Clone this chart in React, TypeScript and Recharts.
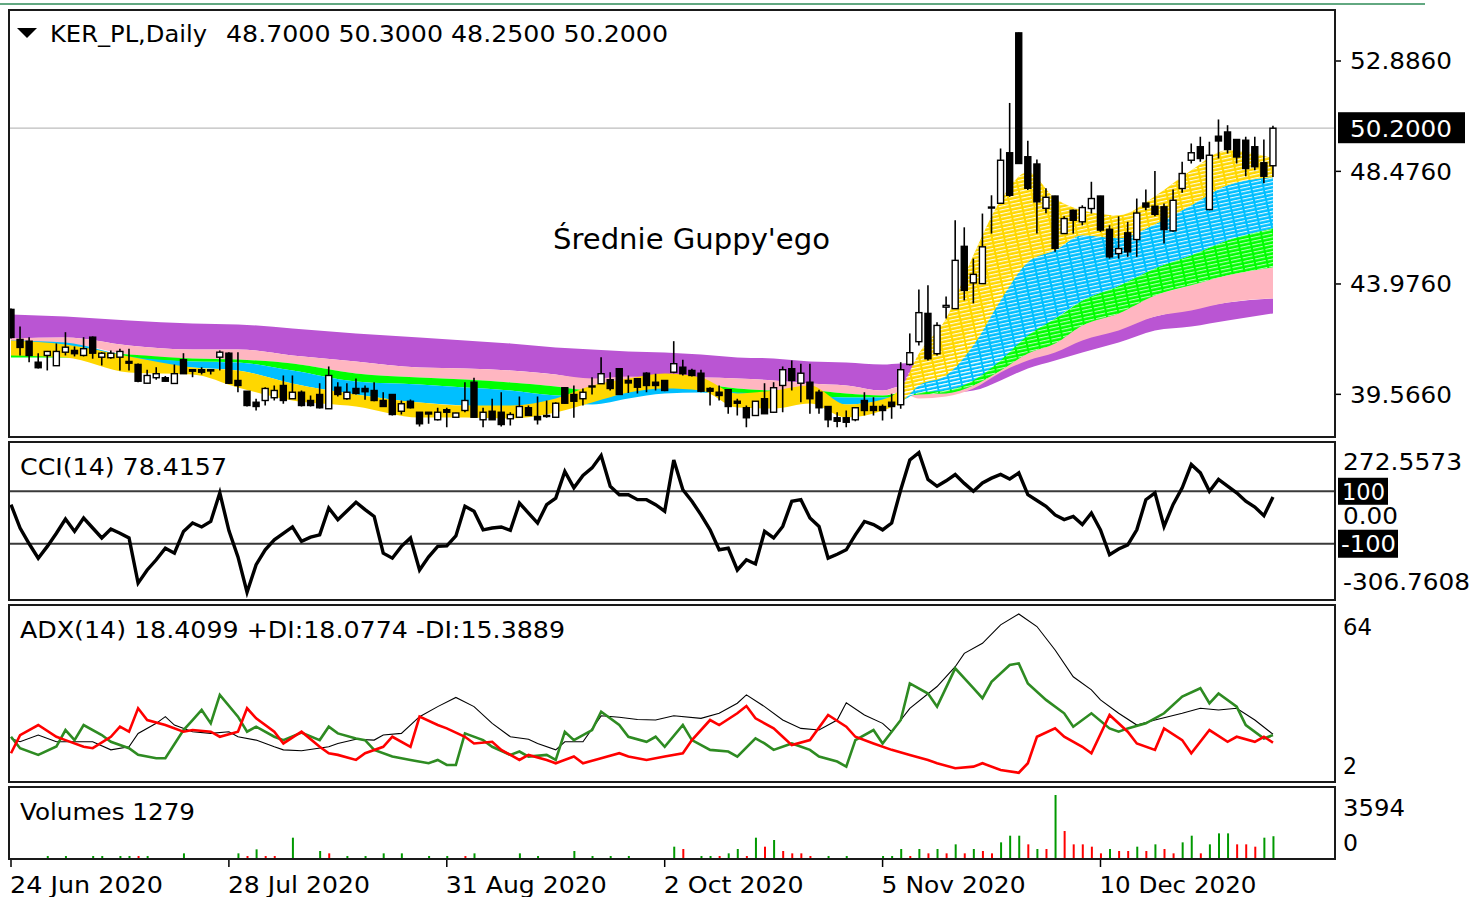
import React from 'react';
import { ComposedChart, Bar, Line, Area, XAxis, YAxis, ReferenceLine, Cell } from 'recharts';

// ---------------- DATA ----------------
const openP = [
  42.96, 41.76, 41.69, 40.85, 41.12, 40.71, 41.25, 41.32, 41.12, 41.85,
  41.05, 41.03, 41.05, 40.88, 40.76, 40.01, 40.23, 40.23, 40.0, 40.95,
  40.55, 40.55, 40.55, 41.05, 41.21, 40.12, 39.69, 39.25, 39.32, 39.43,
  39.92, 39.39, 39.65, 39.32, 39.56, 38.99, 39.85, 39.39, 39.8, 39.8,
  39.72, 39.32, 39.56, 38.89, 39.29, 38.85, 38.85, 38.55, 38.95, 38.65,
  38.92, 40.05, 38.55, 38.89, 38.85, 38.59, 38.65, 39.03, 38.68, 38.72,
  38.65, 39.83, 39.56, 39.39, 39.87, 39.99, 40.15, 40.59, 40.12, 40.19,
  40.41, 40.05, 40.12, 40.45, 40.65, 40.52, 40.41, 39.8, 39.65, 39.75,
  39.29, 39.03, 38.72, 39.39, 38.85, 39.92, 40.59, 40.01, 40.05, 39.65,
  39.08, 38.63, 38.63, 38.55, 39.32, 39.08, 39.08, 39.25, 39.15, 40.76,
  41.67, 42.8, 41.19, 43.05, 42.99, 45.48, 44.02, 43.99, 47.05, 47.2,
  49.22, 54.01, 49.06, 48.77, 47.0, 47.49, 45.99, 46.92, 46.46, 46.99,
  47.49, 46.16, 45.19, 46.02, 45.75, 47.21, 47.08, 47.06, 46.1, 47.79,
  48.92, 49.46, 46.95, 49.88, 50.05, 49.75, 49.72, 49.46, 48.82, 48.7,
];
const highP = [
  43.0, 42.28, 41.85, 41.21, 41.3, 41.6, 42.05, 41.48, 41.85, 41.88,
  41.25, 41.32, 41.39, 41.39, 40.8, 40.55, 40.65, 40.3, 40.76, 41.21,
  40.57, 40.65, 40.57, 41.32, 41.25, 41.25, 39.7, 39.39, 39.85, 39.92,
  40.32, 40.32, 39.72, 39.52, 40.01, 40.68, 40.05, 40.01, 40.2, 39.92,
  40.05, 39.65, 39.57, 39.32, 39.36, 38.86, 38.86, 39.03, 39.03, 38.83,
  40.05, 40.23, 39.03, 39.39, 39.65, 38.85, 39.48, 39.12, 39.48, 39.32,
  39.25, 39.85, 39.92, 39.8, 40.25, 41.05, 40.45, 40.6, 40.32, 40.2,
  40.45, 40.39, 40.13, 41.69, 40.95, 40.59, 40.55, 39.85, 39.92, 39.76,
  39.39, 39.12, 39.3, 40.01, 40.05, 40.68, 40.92, 40.79, 40.79, 39.75,
  39.09, 38.85, 38.92, 39.04, 39.65, 39.45, 39.16, 39.59, 40.85, 42.0,
  43.76, 43.92, 42.45, 43.48, 46.52, 46.24, 44.99, 46.79, 47.52, 49.39,
  51.21, 54.02, 49.7, 48.95, 47.8, 47.5, 46.68, 46.95, 47.12, 48.06,
  47.5, 46.32, 46.68, 46.46, 47.39, 47.75, 48.49, 47.19, 47.75, 48.86,
  49.59, 49.86, 49.66, 50.55, 50.32, 49.76, 49.86, 49.86, 49.75, 50.3,
];
const lowP = [
  41.8, 41.12, 40.85, 40.6, 40.52, 40.7, 41.12, 41.08, 41.08, 40.99,
  40.72, 40.99, 40.52, 40.52, 40.05, 40.0, 40.15, 40.08, 39.98, 40.38,
  40.25, 40.36, 40.36, 40.52, 39.98, 39.65, 39.08, 38.92, 39.12, 39.32,
  39.19, 39.39, 39.08, 39.08, 39.0, 38.98, 39.48, 39.35, 39.56, 39.35,
  39.29, 39.08, 38.72, 38.76, 39.0, 38.28, 38.39, 38.52, 38.25, 38.64,
  38.85, 38.63, 38.25, 38.55, 38.28, 38.32, 38.63, 38.72, 38.36, 38.63,
  38.64, 39.19, 38.63, 39.12, 39.56, 39.99, 39.72, 39.55, 39.62, 39.6,
  39.65, 39.72, 39.69, 40.41, 40.32, 40.28, 39.65, 39.12, 39.32, 38.79,
  38.72, 38.25, 38.7, 38.78, 38.82, 38.85, 39.72, 39.25, 38.79, 38.79,
  38.25, 38.25, 38.25, 38.49, 38.72, 38.72, 38.52, 38.59, 38.99, 40.72,
  41.52, 40.92, 41.12, 42.6, 42.98, 43.32, 43.2, 43.98, 45.99, 47.19,
  47.46, 48.78, 47.73, 45.99, 46.8, 45.26, 45.98, 45.99, 46.32, 46.79,
  46.06, 44.99, 44.99, 45.06, 45.06, 46.92, 46.68, 45.59, 46.06, 47.62,
  48.79, 48.86, 46.92, 48.99, 49.19, 48.79, 48.28, 48.52, 48.0, 48.25,
];
const closeP = [
  41.84, 41.44, 41.12, 40.63, 41.28, 41.28, 41.45, 41.19, 41.39, 41.21,
  41.21, 41.21, 41.28, 40.81, 40.09, 40.32, 40.39, 40.09, 40.39, 40.39,
  40.49, 40.45, 40.5, 41.25, 40.01, 39.92, 39.12, 39.08, 39.8, 39.72,
  39.32, 39.65, 39.12, 39.12, 39.03, 40.32, 39.56, 39.65, 39.6, 39.67,
  39.32, 39.08, 38.76, 39.19, 39.03, 38.39, 38.78, 38.85, 38.85, 38.82,
  39.32, 38.65, 38.85, 38.55, 38.36, 38.76, 39.08, 38.72, 38.55, 38.68,
  39.21, 39.21, 39.29, 39.65, 39.9, 40.39, 39.8, 39.56, 40.02, 39.85,
  39.92, 39.92, 39.72, 40.79, 40.39, 40.32, 39.69, 39.69, 39.52, 39.08,
  39.21, 38.63, 39.29, 38.79, 39.83, 40.55, 40.12, 40.41, 39.39, 39.03,
  38.55, 38.49, 38.45, 39.03, 38.92, 38.92, 38.92, 39.08, 40.55, 41.23,
  42.83, 40.99, 42.32, 43.12, 44.92, 43.72, 44.36, 45.46, 47.02, 48.92,
  47.52, 48.79, 47.8, 47.26, 47.44, 45.4, 46.59, 46.52, 47.03, 47.39,
  46.13, 45.06, 45.39, 45.26, 46.81, 47.05, 46.76, 46.15, 47.32, 48.39,
  49.22, 48.99, 49.12, 49.69, 49.35, 49.05, 48.59, 48.66, 48.28, 50.2,
];

// Guppy ribbons: envelope of each colour group, read at sample bars
const bandIdx = [0, 6, 13, 20, 25, 31, 38, 45, 50, 55, 60, 64, 68, 72, 76, 80, 84, 88, 92, 96, 98, 100, 103, 106, 109, 112, 115, 118, 122, 126, 130, 134, 139];
const yellowHi = [41.72, 41.56, 41.08, 40.64, 40.52, 40.0, 39.56, 39.24, 39.12, 39.12, 39.4, 39.92, 40.2, 40.4, 40.24, 39.6, 39.72, 39.92, 39.16, 39.36, 39.8, 41.2, 42.6, 45.12, 47.32, 48.44, 47.4, 46.92, 46.72, 47.48, 48.52, 49.32, 49.0];
const yellowLo = [41.12, 41.04, 40.44, 40.36, 39.84, 39.32, 39.08, 38.64, 38.64, 38.6, 38.84, 39.24, 39.64, 39.8, 39.72, 39.04, 39.0, 39.2, 38.64, 38.92, 39.24, 39.92, 40.32, 41.52, 43.32, 44.84, 45.32, 45.92, 45.8, 46.36, 47.12, 47.92, 48.24];
const blueHi = [41.72, 41.64, 41.08, 40.88, 40.84, 40.52, 40.08, 39.96, 39.84, 39.72, 39.52, 39.48, 39.8, 39.92, 39.84, 39.64, 39.6, 39.52, 39.44, 39.44, 39.56, 40.12, 41.0, 42.32, 43.92, 44.92, 45.32, 45.92, 45.8, 46.36, 47.12, 47.92, 48.24];
const blueLo = [41.24, 41.32, 40.84, 40.64, 40.52, 40.0, 39.56, 39.24, 39.12, 39.04, 39.2, 39.16, 39.4, 39.6, 39.64, 39.48, 39.4, 39.36, 39.16, 39.28, 39.32, 39.64, 39.72, 40.12, 40.92, 41.92, 42.6, 43.32, 43.9, 44.6, 45.12, 45.72, 46.2];
const greenHi = [41.32, 41.32, 41.16, 41.0, 40.96, 40.8, 40.4, 40.24, 40.16, 40.04, 39.88, 39.72, 39.96, 39.96, 39.96, 39.8, 39.72, 39.72, 39.6, 39.52, 39.64, 39.8, 40.2, 40.92, 41.32, 42.2, 42.6, 43.32, 43.9, 44.6, 45.12, 45.72, 46.2];
const greenLo = [41.04, 41.04, 40.96, 40.88, 40.84, 40.52, 40.08, 39.96, 39.84, 39.72, 39.52, 39.48, 39.72, 39.72, 39.8, 39.6, 39.6, 39.52, 39.44, 39.44, 39.48, 39.56, 39.6, 39.92, 40.52, 41.2, 41.6, 42.32, 42.8, 43.52, 43.92, 44.32, 44.64];
const pinkHi = [41.8, 41.84, 41.52, 41.36, 41.36, 41.12, 40.88, 40.64, 40.6, 40.52, 40.36, 40.2, 40.28, 40.2, 40.24, 40.2, 40.12, 40.0, 39.92, 39.72, 39.88, 39.64, 39.88, 40.44, 40.92, 41.4, 41.7, 42.32, 42.9, 43.52, 43.92, 44.32, 44.64];
const pinkLo = [41.64, 41.6, 41.16, 41.0, 40.96, 40.8, 40.4, 40.24, 40.16, 40.04, 39.88, 39.72, 39.88, 39.88, 39.96, 39.8, 39.72, 39.72, 39.6, 39.52, 39.64, 39.4, 39.48, 39.8, 40.44, 40.92, 41.24, 41.72, 42.12, 42.68, 42.92, 43.24, 43.4];
const purpleHi = [42.76, 42.68, 42.52, 42.4, 42.36, 42.2, 42.0, 41.84, 41.72, 41.6, 41.44, 41.36, 41.28, 41.24, 41.16, 41.04, 41.0, 40.88, 40.84, 40.76, 40.8, 40.84, 40.76, 40.72, 40.84, 41.24, 41.52, 41.92, 42.32, 42.68, 43.0, 43.24, 43.4];
const purpleLo = [41.8, 41.84, 41.52, 41.36, 41.36, 41.12, 40.88, 40.64, 40.6, 40.52, 40.36, 40.12, 40.2, 40.12, 40.24, 40.2, 40.12, 40.0, 39.92, 39.72, 39.88, 39.64, 39.64, 39.72, 40.12, 40.6, 40.92, 41.24, 41.64, 42.12, 42.28, 42.52, 42.8];

const cci = [
  49, -40, -100, -155, -110, -60, -6, -53, -2, -40,
  -78, -44, -60, -78, -250, -200, -161, -117, -136, -53,
  -21, -36, -15, 94, -50, -150, -285, -180, -123, -85,
  -60, -36, -91, -75, -66, 36, -8, 25, 58, 30,
  4, -136, -155, -110, -78, -200, -150, -110, -108, -70,
  43, 24, -47, -40, -36, -49, 55, 17, -21, 49,
  74, 176, 113, 160, 189, 236, 119, 87, 87, 68,
  68, 49, 24, 219, 106, 62, 10, -47, -123, -117,
  -200, -161, -177, -53, -78, -34, 62, 68, -2, -34,
  -155, -140, -123, -66, -15, -27, -47, -21, 106, 219,
  247, 145, 119, 140, 164, 130, 100, 132, 150, 164,
  147, 170, 87, 65, 43, 10, -8, 4, -27, 17,
  -47, -142, -120, -104, -47, 68, 94, -34, 50, 113,
  202, 170, 100, 145, 120, 94, 62, 40, 7, 78.4157,
];

const adxPts: [number, number][] = [
  [0, 16.9], [1, 15.7], [3, 18.1], [5, 15.7], [7, 15.7], [9, 15.7], [11, 12.8], [13, 13.9], [14, 18.7], [16, 22.3],
  [17, 24.7], [18, 21.7], [20, 19.3], [22, 18.7], [24, 19.3], [25, 17.5], [27, 16.3], [29, 13.9], [30, 12.8], [32, 12.5],
  [35, 13.9], [36, 15.1], [38, 16.6], [40, 16.3], [41, 18.1], [43, 18.7], [45, 24.7], [47, 28.3], [49, 31.6], [51, 28.3],
  [53, 22.3], [55, 17.5], [57, 16.6], [58, 15.1], [60, 12.8], [61, 15.7], [63, 15.7], [65, 25], [67, 24.5], [69, 23.7],
  [71, 23.5], [73, 25], [76, 24.1], [78, 25.9], [80, 29.5], [81, 32.5], [83, 28.3], [85, 23.5], [87, 20.5], [89, 19.9],
  [91, 23.5], [92, 29.7], [94, 25.3], [96, 22.3], [97, 19.3], [99, 27.7], [102, 35.5], [104, 42.6], [105, 47.4], [107, 51],
  [109, 57.6], [111, 61.5], [113, 57], [115, 48.6], [117, 39], [119, 34.3], [120, 30.7], [122, 25.9], [124, 21.7], [126, 23.5],
  [129, 25.9], [131, 27.7], [133, 27.1], [135, 27.7], [137, 23.5], [139, 18.4099],
];
const plusDiPts: [number, number][] = [
  [0, 17.5], [1, 13.4], [3, 11], [5, 14], [6, 19.9], [7, 16.3], [8, 21.7], [10, 18.1], [11, 15.7], [13, 13.4],
  [14, 11], [16, 9.8], [17, 9.8], [19, 19.9], [20, 23.5], [21, 27.1], [22, 22.3], [23, 32.5], [25, 24.7], [26, 19.3],
  [27, 21.1], [29, 17.5], [30, 16.3], [32, 19], [34, 16.3], [35, 21.1], [36, 18.7], [38, 16.9], [39, 16.3], [40, 12.8],
  [42, 10.4], [43, 9.8], [44, 9.2], [46, 8], [47, 9.2], [48, 7.4], [49, 7.4], [50, 18.7], [52, 16.3], [53, 13.9],
  [55, 11], [56, 12.2], [57, 10.4], [59, 11], [60, 9.2], [61, 19.3], [62, 16.3], [64, 19.9], [65, 26.5], [67, 21.7],
  [68, 17.5], [70, 15.7], [71, 17.5], [72, 13.9], [74, 21.7], [75, 16.3], [77, 12.8], [79, 12.2], [80, 10.4], [82, 16.9],
  [83, 15.1], [84, 12.8], [86, 15.1], [88, 12.8], [89, 10.4], [91, 8.6], [92, 6.8], [93, 16.3], [95, 19.9], [96, 15.1],
  [98, 23.5], [99, 36.6], [101, 33], [102, 28.3], [104, 42], [106, 34.9], [107, 31.3], [108, 37.2], [110, 43.2], [111, 43.8],
  [112, 36.6], [114, 30.7], [116, 25.9], [117, 21.1], [119, 25.9], [121, 20.5], [122, 19.3], [123, 20.5], [125, 22.3], [127, 25.9],
  [129, 31.9], [131, 34.9], [132, 29.5], [133, 33], [135, 28.3], [136, 21.7], [138, 16.9], [139, 18.0774],
];
const minusDiPts: [number, number][] = [
  [0, 11.6], [1, 18.1], [3, 21.7], [5, 17.5], [6, 16.3], [8, 13.9], [9, 13.4], [11, 17.5], [12, 21.1], [13, 19.3],
  [14, 27.7], [15, 23.5], [17, 21.7], [19, 19.3], [20, 19.9], [22, 19.3], [23, 17.5], [25, 19.3], [26, 27.7], [27, 24.1],
  [29, 19.3], [30, 15.1], [32, 19.3], [34, 13.9], [35, 11.6], [36, 11], [38, 9.2], [39, 11.6], [41, 13.9], [42, 17.5],
  [44, 13.9], [45, 24.7], [47, 21.7], [48, 20.5], [50, 17.5], [51, 15.1], [53, 15.7], [54, 12.8], [56, 9.2], [57, 11],
  [59, 9.2], [60, 8], [62, 10.4], [63, 8], [65, 9.8], [67, 11.6], [68, 10.4], [70, 9.2], [72, 10.4], [74, 11.6],
  [75, 16.3], [77, 23.5], [78, 21.7], [80, 25.9], [81, 28.5], [82, 24.1], [84, 20.5], [85, 17.5], [86, 14.5], [88, 16.3],
  [90, 25.3], [92, 21.1], [93, 17.5], [95, 15.1], [97, 12.8], [99, 11], [101, 9.2], [102, 8], [104, 6.2], [106, 6.8],
  [107, 8], [109, 5.6], [111, 4.6], [112, 8], [113, 17.5], [115, 20.5], [116, 17.5], [118, 13.9], [119, 11.6], [121, 25.3],
  [123, 19.3], [124, 15.1], [126, 12.8], [127, 20.5], [129, 16.3], [130, 11.6], [132, 19.9], [134, 15.7], [135, 17.5], [137, 15.7],
  [138, 17.5], [139, 15.3889],
];

// volume: [bar index, volume, 1 = green / 0 = red]
const volumePts: [number, number, number][] = [
  [4, 168, 1], [6, 168, 1], [9, 168, 1], [10, 168, 1], [12, 168, 1], [13, 168, 1], [14, 168, 0], [15, 168, 1], [19, 318, 1], [25, 318, 1],
  [26, 168, 0], [27, 542, 1], [28, 168, 0], [29, 168, 0], [31, 1197, 1], [34, 449, 1], [35, 318, 0], [37, 168, 1], [39, 168, 1], [41, 318, 1],
  [43, 318, 1], [46, 168, 1], [48, 168, 1], [50, 168, 0], [51, 318, 1], [56, 318, 1], [58, 168, 1], [62, 449, 1], [64, 168, 1], [66, 168, 1],
  [68, 168, 1], [73, 692, 1], [74, 561, 0], [76, 168, 1], [77, 168, 1], [78, 168, 0], [79, 318, 1], [80, 561, 1], [81, 168, 0], [82, 1197, 1],
  [83, 692, 0], [84, 1066, 1], [85, 449, 0], [86, 318, 0], [87, 318, 0], [88, 168, 0], [90, 168, 1], [92, 168, 1], [96, 168, 1], [97, 168, 1],
  [98, 561, 1], [99, 168, 0], [100, 561, 1], [101, 318, 0], [102, 561, 1], [103, 318, 0], [104, 823, 1], [105, 318, 0], [106, 561, 1], [107, 449, 0],
  [108, 318, 0], [109, 935, 1], [110, 1309, 1], [111, 1309, 1], [112, 823, 0], [113, 561, 1], [114, 561, 0], [115, 3594, 1], [116, 1571, 0], [117, 823, 0],
  [118, 823, 0], [119, 692, 0], [120, 318, 0], [121, 561, 1], [122, 449, 0], [123, 449, 0], [124, 692, 1], [125, 449, 0], [126, 823, 1], [127, 561, 0],
  [128, 318, 0], [129, 935, 1], [130, 1309, 1], [131, 318, 0], [132, 823, 1], [133, 1440, 1], [134, 1440, 1], [135, 823, 0], [136, 823, 0], [137, 692, 0],
  [138, 1197, 1], [139, 1279, 1],
];

const priceTicks = [52.886, 50.2, 48.476, 43.976, 39.566];
const cciTicks = [272.5573, 100, 0, -100, -306.7608];
const adxTicks = [64, 2];
const volTicks = [3594, 0];
const dateTicks = [0, 24, 48, 72, 96, 120];
const dateLabels = ['24 Jun 2020', '28 Jul 2020', '31 Aug 2020', '2 Oct 2020', '5 Nov 2020', '10 Dec 2020'];
const dateWidths = [153, 142, 161, 140, 144, 157];

// ---------------- BUILD ROWS ----------------
const N = openP.length;
const candleRows = openP.map((o, i) => ({ i, o, h: highP[i], l: lowP[i], c: closeP[i] }));
const bandRows = bandIdx.map((i, k) => ({
  i,
  pu: [purpleLo[k], purpleHi[k]],
  pk: [pinkLo[k], pinkHi[k]],
  gr: [greenLo[k], greenHi[k]],
  bl: [blueLo[k], blueHi[k]],
  ye: [yellowLo[k], yellowHi[k]],
}));
const stripeRows = bandRows.filter((r) => r.i >= 98);
const cciRows = cci.map((v, i) => ({ i, v }));
const adxRows: any[] = Array.from({ length: N }, (_, i) => ({ i, adx: null, pdi: null, mdi: null }));
adxPts.forEach(([i, v]) => { adxRows[i].adx = v; });
plusDiPts.forEach(([i, v]) => { adxRows[i].pdi = v; });
minusDiPts.forEach(([i, v]) => { adxRows[i].mdi = v; });
const volRows: any[] = Array.from({ length: N }, (_, i) => ({ i, v: 0, up: 1 }));
volumePts.forEach(([i, v, up]) => { volRows[i].v = v; volRows[i].up = up; });

// ---------------- LAYOUT ----------------
const W = 1475;
const XD: [number, number] = [-0.2203, 145.83];
const PD: [number, number] = [37.861, 54.924];
const MARGIN = { top: 0, right: 9, bottom: 0, left: 9 };
const AXW = 131;
const FONT = '"DejaVu Sans", Verdana, sans-serif';

function Txt({ x, y, w, s = 23, fill = '#000', children }: any) {
  return (
    <text x={x} y={y} fontSize={s} fill={fill} fontFamily={FONT} textLength={w} lengthAdjust="spacingAndGlyphs">
      {children}
    </text>
  );
}

const Candle = (props: any) => {
  const { x, y, width, height, payload } = props;
  if (!payload || x == null || y == null) return null;
  const { o, h, l, c } = payload;
  const top = Math.min(y, y + height);
  const hh = Math.abs(height);
  const span = h - l || 1;
  const py = (v: number) => top + ((h - v) / span) * hh;
  const cx = x + width / 2;
  const bull = c >= o;
  const bt = py(Math.max(o, c));
  const bb = py(Math.min(o, c));
  return (
    <g>
      <line x1={cx} x2={cx} y1={top} y2={top + hh} stroke="#000" strokeWidth={1.6} />
      <rect x={cx - 3} y={bt} width={6} height={Math.max(bb - bt, 1)} fill={bull ? '#fff' : '#000'} stroke="#000" strokeWidth={1.4} />
    </g>
  );
};

const priceTick = (p: any) => {
  const v = p.payload.value;
  const y = p.y;
  if (v === 50.2) {
    return (
      <g>
        <rect x={1338} y={y - 16} width={127} height={31} fill="#000" />
        <Txt x={1350} y={y + 8.4} w={102} fill="#fff">50.2000</Txt>
      </g>
    );
  }
  return (
    <g>
      <line x1={1335} x2={1341} y1={y} y2={y} stroke="#000" strokeWidth={1.5} />
      <Txt x={1350} y={y + 8.4} w={102}>{v.toFixed(4)}</Txt>
    </g>
  );
};

const cciTick = (p: any) => {
  const v = p.payload.value;
  const y = p.y;
  if (v === 100) {
    return (
      <g>
        <rect x={1338} y={y - 13.5} width={50} height={27} fill="#000" />
        <Txt x={1342} y={y + 8.4} w={43} fill="#fff">100</Txt>
      </g>
    );
  }
  if (v === -100) {
    return (
      <g>
        <rect x={1338} y={y - 14} width={60} height={28} fill="#000" />
        <Txt x={1341} y={y + 8.4} w={55} fill="#fff">-100</Txt>
      </g>
    );
  }
  if (v === 0) return <Txt x={1343} y={y - 1.8 + 8.4} w={55}>0.00</Txt>;
  if (v > 0) return <Txt x={1343} y={y + 16 + 8.4} w={119}>{v.toFixed(4)}</Txt>;
  return <Txt x={1343} y={y - 16 + 8.4} w={127}>{v.toFixed(4)}</Txt>;
};

const adxTick = (p: any) => {
  const v = p.payload.value;
  const y = p.y;
  if (v === 64) return <Txt x={1343} y={y + 20 + 8.4} w={29}>64</Txt>;
  return <Txt x={1343} y={y - 14 + 8.4} w={14}>2</Txt>;
};

const volTick = (p: any) => {
  const v = p.payload.value;
  const y = p.y;
  if (v === 3594) return <Txt x={1343} y={y + 13 + 8.4} w={62}>3594</Txt>;
  return <Txt x={1343} y={y - 16 + 8.4} w={15}>0</Txt>;
};

const dateTick = (p: any) => {
  const k = dateTicks.indexOf(p.payload.value);
  const x = p.x;
  return (
    <g>
      <line x1={x} x2={x} y1={70} y2={78} stroke="#000" strokeWidth={1.5} />
      <Txt x={x - 1} y={104} w={dateWidths[k]}>{dateLabels[k]}</Txt>
    </g>
  );
};

const xAxisHidden = <XAxis dataKey="i" type="number" domain={XD} allowDataOverflow hide />;

export default function App() {
  return (
    <div style={{ position: 'absolute', left: 0, top: 0, width: W, height: 897, background: '#fff', overflow: 'hidden', fontFamily: FONT }}>
      {/* Guppy ribbons */}
      <div style={{ position: 'absolute', left: 0, top: 10 }}>
        <ComposedChart width={W} height={427} data={bandRows} margin={MARGIN}>
          {xAxisHidden}
          <YAxis orientation="right" width={AXW} domain={PD} allowDataOverflow tick={false} axisLine={false} tickLine={false} />
          <ReferenceLine y={50.2} stroke="#BDBDBD" strokeWidth={1.2} />
          <Area type="monotone" dataKey="pu" fill="#BA55D3" fillOpacity={1} stroke="none" isAnimationActive={false} />
          <Area type="monotone" dataKey="pk" fill="#FFB6C1" fillOpacity={1} stroke="none" isAnimationActive={false} />
          <Area type="monotone" dataKey="gr" fill="#00FF00" fillOpacity={1} stroke="none" isAnimationActive={false} />
          <Area type="monotone" dataKey="bl" fill="#00BFFF" fillOpacity={1} stroke="none" isAnimationActive={false} />
          <Area type="monotone" dataKey="ye" fill="#FFD700" fillOpacity={1} stroke="none" isAnimationActive={false} />
        </ComposedChart>
      </div>
      {/* line texture of the rising ribbons */}
      <div style={{ position: 'absolute', left: 0, top: 10 }}>
        <ComposedChart width={W} height={427} data={stripeRows} margin={MARGIN}>
          <defs>
            <pattern id="gstripe" width={12} height={3.6} patternUnits="userSpaceOnUse" patternTransform="rotate(-12)">
              <rect x={0} y={0} width={10} height={1.1} fill="#ffffff" />
            </pattern>
          </defs>
          {xAxisHidden}
          <YAxis orientation="right" width={AXW} domain={PD} allowDataOverflow tick={false} axisLine={false} tickLine={false} />
          <Area type="monotone" dataKey="gr" fill="url(#gstripe)" fillOpacity={0.7} stroke="none" isAnimationActive={false} />
          <Area type="monotone" dataKey="bl" fill="url(#gstripe)" fillOpacity={0.9} stroke="none" isAnimationActive={false} />
          <Area type="monotone" dataKey="ye" fill="url(#gstripe)" fillOpacity={0.9} stroke="none" isAnimationActive={false} />
        </ComposedChart>
      </div>
      {/* Candles */}
      <div style={{ position: 'absolute', left: 0, top: 10 }}>
        <ComposedChart width={W} height={427} data={candleRows} margin={MARGIN}>
          {xAxisHidden}
          <YAxis orientation="right" width={AXW} domain={PD} allowDataOverflow ticks={priceTicks} interval={0} tick={priceTick} axisLine={false} tickLine={false} />
          <Bar dataKey={(d: any) => [d.l, d.h]} barSize={7} shape={(p: any) => <Candle {...p} />} isAnimationActive={false} />
        </ComposedChart>
      </div>
      {/* CCI */}
      <div style={{ position: 'absolute', left: 0, top: 446 }}>
        <ComposedChart width={W} height={152} data={cciRows} margin={MARGIN}>
          {xAxisHidden}
          <YAxis orientation="right" width={AXW} domain={[-306.7608, 272.5573]} allowDataOverflow ticks={cciTicks} interval={0} tick={cciTick} axisLine={false} tickLine={false} />
          <ReferenceLine y={100} stroke="#3a3a3a" strokeWidth={2} />
          <ReferenceLine y={-100} stroke="#3a3a3a" strokeWidth={2} />
          <Line type="linear" dataKey="v" stroke="#000" strokeWidth={3.4} dot={false} activeDot={false} isAnimationActive={false} />
        </ComposedChart>
      </div>
      {/* ADX */}
      <div style={{ position: 'absolute', left: 0, top: 607 }}>
        <ComposedChart width={W} height={173} data={adxRows} margin={MARGIN}>
          {xAxisHidden}
          <YAxis orientation="right" width={AXW} domain={[2, 64]} allowDataOverflow ticks={adxTicks} interval={0} tick={adxTick} axisLine={false} tickLine={false} />
          <Line type="linear" dataKey="adx" stroke="#000" strokeWidth={1.1} dot={false} activeDot={false} connectNulls isAnimationActive={false} />
          <Line type="linear" dataKey="pdi" stroke="#2E8B22" strokeWidth={2.6} dot={false} activeDot={false} connectNulls isAnimationActive={false} />
          <Line type="linear" dataKey="mdi" stroke="#FF0000" strokeWidth={2.6} dot={false} activeDot={false} connectNulls isAnimationActive={false} />
        </ComposedChart>
      </div>
      {/* Volumes */}
      <div style={{ position: 'absolute', left: 0, top: 789 }}>
        <ComposedChart width={W} height={108} data={volRows} margin={MARGIN}>
          <XAxis dataKey="i" type="number" domain={XD} allowDataOverflow ticks={dateTicks} interval={0} height={38} axisLine={false} tickLine={false} tick={dateTick} />
          <YAxis orientation="right" width={AXW} domain={[0, 3931]} allowDataOverflow ticks={volTicks} interval={0} tick={volTick} axisLine={false} tickLine={false} />
          <Bar dataKey="v" barSize={2} isAnimationActive={false}>
            {volRows.map((r, k) => (
              <Cell key={k} fill={r.up ? '#009900' : '#FF0000'} />
            ))}
          </Bar>
        </ComposedChart>
      </div>
      {/* frames and captions */}
      <svg width={W} height={897} style={{ position: 'absolute', left: 0, top: 0, pointerEvents: 'none' }}>
        <line x1={0} x2={1425} y1={4} y2={4} stroke="#2E8B57" strokeWidth={1.5} />
        <rect x={9} y={10} width={1326} height={427} fill="none" stroke="#1a1a1a" strokeWidth={2} />
        <rect x={9} y={442} width={1326} height={158} fill="none" stroke="#1a1a1a" strokeWidth={2} />
        <rect x={9} y={605} width={1326} height={177} fill="none" stroke="#1a1a1a" strokeWidth={2} />
        <rect x={9} y={787} width={1326} height={72} fill="none" stroke="#1a1a1a" strokeWidth={2} />
        <polygon points="17,28 37,28 27,38" fill="#000" />
        <Txt x={50} y={42} w={157}>KER_PL,Daily</Txt>
        <Txt x={226} y={42} w={442}>48.7000 50.3000 48.2500 50.2000</Txt>
        <Txt x={553} y={249} w={277} s={28}>Średnie Guppy'ego</Txt>
        <Txt x={20} y={475.4} w={207}>CCI(14) 78.4157</Txt>
        <Txt x={20} y={638.4} w={545}>ADX(14) 18.4099 +DI:18.0774 -DI:15.3889</Txt>
        <Txt x={20} y={820.4} w={175}>Volumes 1279</Txt>
      </svg>
    </div>
  );
}
